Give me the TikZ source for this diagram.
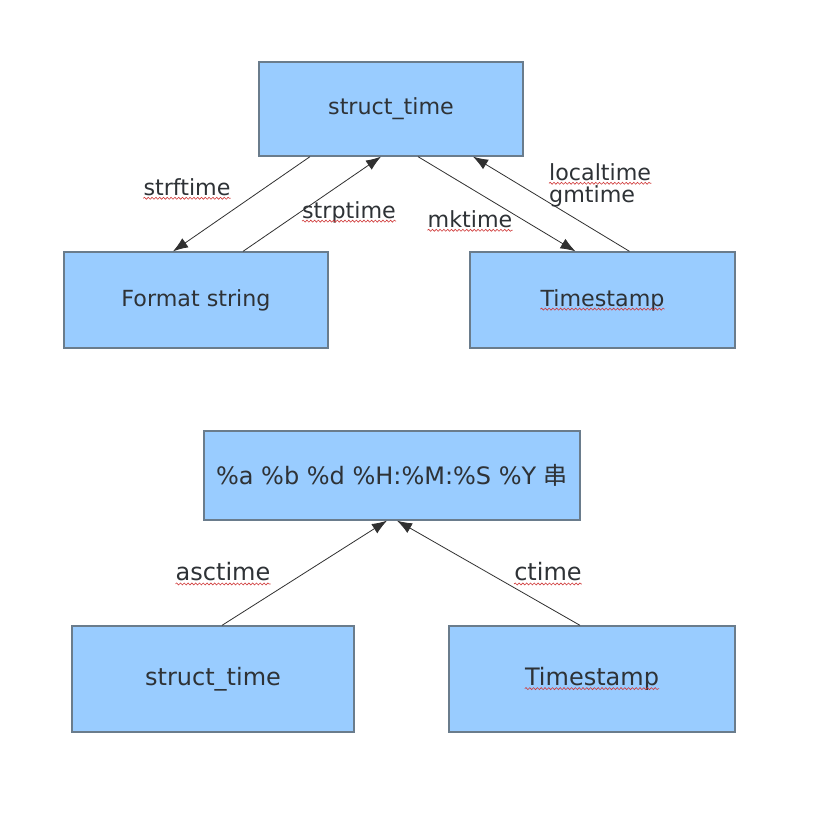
\documentclass[tikz,border=0pt]{standalone}
\usepackage{fontspec}
\setmainfont{DejaVu Sans}
\newfontfamily\cjk{Noto Sans CJK SC}
\usetikzlibrary{arrows.meta,decorations.pathmorphing}
\definecolor{boxfill}{HTML}{99CCFF}
\definecolor{boxline}{HTML}{6A7C8C}
\definecolor{ink}{HTML}{2E3236}
\definecolor{wire}{HTML}{303030}
\definecolor{spellred}{HTML}{D03A3A}
\begin{document}
\begin{tikzpicture}[x=1pt,y=-1pt,
  box/.style={draw=boxline,line width=1.3pt,fill=boxfill,text=ink,
    font=\fontsize{22.2}{26}\selectfont,inner sep=0pt},
  lbl/.style={text=ink,font=\fontsize{22.2}{26}\selectfont,inner sep=0pt},
  big/.style={font=\fontsize{24}{28}\selectfont},
  conn/.style={draw=wire,line width=0.8pt,-{Latex[length=15pt,width=11pt]}},
  wave/.style={draw=spellred,line width=0.6pt,decorate,
    decoration={snake,amplitude=1pt,segment length=3.8pt}}]
\useasboundingbox[fill=white] (0,0) rectangle (829,816);
% upper diagram
\node[box,minimum width=264pt,minimum height=94pt] (st) at (391,109) {struct\_time};
\node[box,minimum width=264pt,minimum height=96pt] (fs) at (196,300) {Format string};
\node[box,minimum width=265pt,minimum height=96pt,
  label={[lbl,name=tst]center:Timestamp}] (ts) at (602.5,300) {};
\draw[conn] ([xshift=-81pt]st.south) -- ([xshift=-23pt]fs.north);
\draw[conn] ([xshift=47pt]fs.north) -- ([xshift=-10pt]st.south);
\draw[conn] ([xshift=27pt]st.south) -- ([xshift=-27pt]ts.north);
\draw[conn] ([xshift=27pt]ts.north) -- ([xshift=82pt]st.south);
\node[lbl] (lstrf) at (187,187) {strftime};
\node[lbl] (lstrp) at (349,212) {strptime};
\node[lbl] (lmk) at (470,219) {mktime};
\node[lbl,anchor=west] (lloc) at (549,172) {localtime};
\node[lbl,anchor=west] (lgm) at (549,196) {gmtime};
% lower diagram
\node[box,big,minimum width=376pt,minimum height=89pt] (fmt) at (392,475.5) {\%a \%b \%d \%H:\%M:\%S \%Y {\cjk 串}};
\node[box,big,minimum width=282pt,minimum height=106pt] (st2) at (213,679) {struct\_time};
\node[box,minimum width=286pt,minimum height=106pt,
  label={[lbl,big,name=tst2]center:Timestamp}] (ts2) at (592,679) {};
\draw[conn] ([xshift=9pt]st2.north) -- ([xshift=-5pt]fmt.south);
\draw[conn] ([xshift=-12pt]ts2.north) -- ([xshift=5pt]fmt.south);
\node[lbl,big] (lasc) at (223,572) {asctime};
\node[lbl,big] (lct) at (548,572) {ctime};
% spell-check underlines
\foreach \w in {tst,tst2,lstrf,lstrp,lmk,lloc,lasc,lct}
  \draw[wave] ([yshift=-3pt]\w.base west) -- ([yshift=-3pt]\w.base east);
\end{tikzpicture}
\end{document}
